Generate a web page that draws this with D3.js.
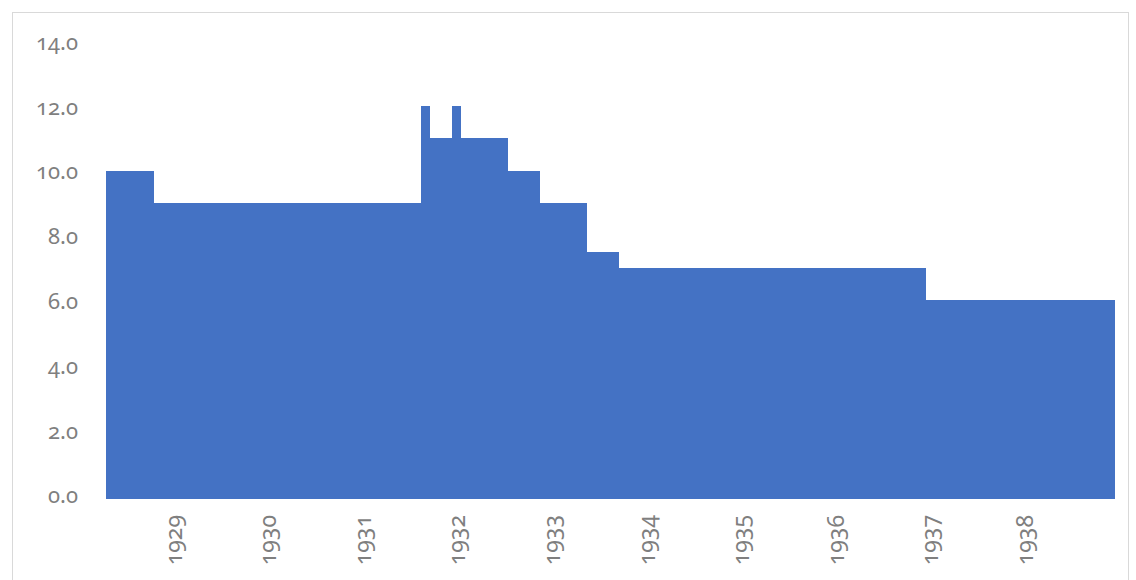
<!DOCTYPE html>
<html>
<head>
<meta charset="utf-8">
<script src="https://cdn.jsdelivr.net/npm/d3@7"></script>
<style>
  html, body { margin: 0; padding: 0; background: #fff; }
  svg text { font-family: "Noto Sans", "Open Sans", sans-serif; font-variant-numeric: oldstyle-nums; fill: #7f7f7f; }
</style>
</head>
<body>
<svg id="chart" width="1136" height="580"></svg>
<script>
// Monthly rate, May 1928 – Dec 1938
const months = [
  "1928-05","1928-06","1928-07","1928-08","1928-09","1928-10","1928-11","1928-12",
  "1929-01","1929-02","1929-03","1929-04","1929-05","1929-06","1929-07","1929-08","1929-09","1929-10","1929-11","1929-12",
  "1930-01","1930-02","1930-03","1930-04","1930-05","1930-06","1930-07","1930-08","1930-09","1930-10","1930-11","1930-12",
  "1931-01","1931-02","1931-03","1931-04","1931-05","1931-06","1931-07","1931-08","1931-09","1931-10","1931-11","1931-12",
  "1932-01","1932-02","1932-03","1932-04","1932-05","1932-06","1932-07","1932-08","1932-09","1932-10","1932-11","1932-12",
  "1933-01","1933-02","1933-03","1933-04","1933-05","1933-06","1933-07","1933-08","1933-09","1933-10","1933-11","1933-12",
  "1934-01","1934-02","1934-03","1934-04","1934-05","1934-06","1934-07","1934-08","1934-09","1934-10","1934-11","1934-12",
  "1935-01","1935-02","1935-03","1935-04","1935-05","1935-06","1935-07","1935-08","1935-09","1935-10","1935-11","1935-12",
  "1936-01","1936-02","1936-03","1936-04","1936-05","1936-06","1936-07","1936-08","1936-09","1936-10","1936-11","1936-12",
  "1937-01","1937-02","1937-03","1937-04","1937-05","1937-06","1937-07","1937-08","1937-09","1937-10","1937-11","1937-12",
  "1938-01","1938-02","1938-03","1938-04","1938-05","1938-06","1938-07","1938-08","1938-09","1938-10","1938-11","1938-12"
];

const rates = [
  10.125,10.125,10.125,10.125,10.125,10.125,9.125,9.125,
  9.125,9.125,9.125,9.125,9.125,9.125,9.125,9.125,9.125,9.125,9.125,9.125,
  9.125,9.125,9.125,9.125,9.125,9.125,9.125,9.125,9.125,9.125,9.125,9.125,
  9.125,9.125,9.125,9.125,9.125,9.125,9.125,9.125,12.125,11.125,11.125,11.125,
  12.125,11.125,11.125,11.125,11.125,11.125,11.125,10.125,10.125,10.125,10.125,9.125,
  9.125,9.125,9.125,9.125,9.125,7.625,7.625,7.625,7.625,7.125,7.125,7.125,
  7.125,7.125,7.125,7.125,7.125,7.125,7.125,7.125,7.125,7.125,7.125,7.125,
  7.125,7.125,7.125,7.125,7.125,7.125,7.125,7.125,7.125,7.125,7.125,7.125,
  7.125,7.125,7.125,7.125,7.125,7.125,7.125,7.125,7.125,7.125,7.125,7.125,
  6.125,6.125,6.125,6.125,6.125,6.125,6.125,6.125,6.125,6.125,6.125,6.125,
  6.125,6.125,6.125,6.125,6.125,6.125,6.125,6.125,6.125,6.125,6.125,6.125
];

// Year labels sit on each January
const yearTicks = ["1929-01","1930-01","1931-01","1932-01","1933-01","1934-01","1935-01","1936-01","1937-01","1938-01"];
const yTicks = [0, 2, 4, 6, 8, 10, 12, 14];

const svg = d3.select("#chart");

// chart frame
svg.append("rect")
  .attr("x", 12.5).attr("y", 12.5)
  .attr("width", 1116).attr("height", 600)
  .attr("fill", "none").attr("stroke", "#d9d9d9").attr("stroke-width", 1);

const x = d3.scaleBand().domain(months).range([105.5, 1114.3]).padding(0);
const y = d3.scaleLinear().domain([0, 14]).range([498.5, 45]);

const data = months.map((m, i) => ({ m, v: rates[i] }));

// columns with no gap between months
svg.append("g")
  .attr("shape-rendering", "crispEdges")
  .selectAll("rect")
  .data(data)
  .join("rect")
  .attr("x", d => x(d.m))
  .attr("y", d => y(d.v))
  .attr("width", x.bandwidth() + 1)
  .attr("height", d => y(0) - y(d.v))
  .attr("fill", "#4472c4");

// y axis labels
const yAxis = d3.axisLeft(y).tickValues(yTicks).tickFormat(d3.format(".1f")).tickSize(0).tickPadding(0);
const gy = svg.append("g").attr("transform", "translate(78,0)").call(yAxis);
gy.select(".domain").remove();
gy.selectAll("text")
  .attr("font-size", 22)
  .attr("fill", "#7f7f7f")
  .attr("dy", "0.2em");

// x axis labels, rotated
const xAxis = d3.axisBottom(x).tickValues(yearTicks).tickFormat(d => d.slice(0, 4)).tickSize(0).tickPadding(0);
const gx = svg.append("g").attr("transform", "translate(0,515)").call(xAxis);
gx.select(".domain").remove();
gx.selectAll("text")
  .attr("font-size", 23)
  .attr("fill", "#7f7f7f")
  .attr("transform", "rotate(-90)")
  .attr("text-anchor", "end")
  .attr("x", 0)
  .attr("y", 0)
  .attr("dy", "0.4em")
  .attr("dx", 0);
</script>
</body>
</html>
